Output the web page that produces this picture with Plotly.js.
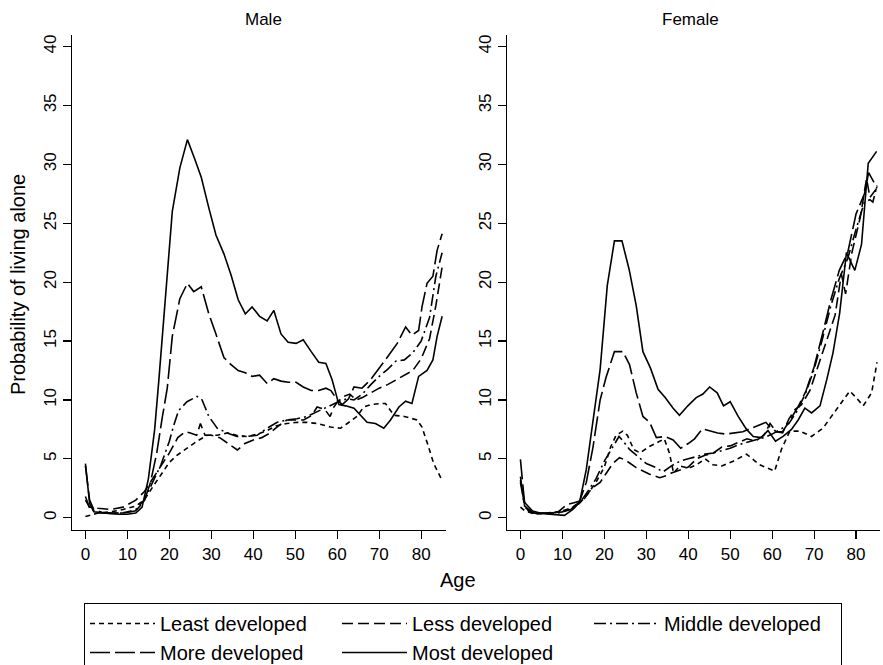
<!DOCTYPE html>
<html>
<head>
<meta charset="utf-8">
<script src="https://cdn.plot.ly/plotly-3.0.1.min.js"></script>
<style>html,body{margin:0;padding:0;background:#fff;}#chart{width:883px;height:665px;}</style>
</head>
<body>
<div id="chart"></div>
<script>
// ---------- data ----------
const seriesNames = ["Least developed", "Less developed", "Middle developed", "More developed", "Most developed"];
const panelTitles = ["Male", "Female"];
const yTickVals = [0, 5, 10, 15, 20, 25, 30, 35, 40];
const xTickVals = [0, 10, 20, 30, 40, 50, 60, 70, 80];

// Male
const maleLeastAge = [0,1,3,6,9,12,14,16,18.7,20,21.8,24.2,26.6,29,31.4,33.8,36,38.5,41,43.3,45.5,48,50.5,52.8,55.2,58.4,60.8,62.4,64.7,66.3,68,70.3,71.5,73.5,76,79,80.2,81.5,83,84.8];
const maleLeastVal = [0.1,0.2,0.4,0.5,0.7,1.0,1.5,2.6,4.05,4.7,5.3,5.9,6.5,7.0,7.0,7.2,7.0,6.9,7.1,7.4,7.8,8.0,8.1,8.1,8.0,7.7,7.6,8.0,8.6,9.4,9.6,9.7,9.7,8.7,8.6,8.3,7.7,6.3,4.6,3.3];

const maleLessAge = [0,1,3,6,9,12,14,16,18,20,22,23.8,25,26.5,27.4,28.5,30,32,34,36.2,38,40,42,44,46,48,50,52,54,55.2,57,58.3,59.2,60,61.5,63,64.5,66,68,70,72,74,76,78,80,82,83.5,85];
const maleLessVal = [1.5,0.9,0.8,0.7,0.9,1.5,2.2,3.3,4.3,5.5,6.8,7.3,7.2,7.0,8.0,7.0,7.0,6.8,6.3,5.75,6.3,6.6,6.8,7.2,7.8,8.3,8.3,8.3,8.7,9.4,9.2,8.6,9.4,9.8,10.3,10.5,10.0,10.2,10.6,11.0,11.3,11.7,12.1,12.5,13.5,15.2,18.0,21.3];

const maleMiddleAge = [0,1,3,6,9,12,14,16,18,20,21,22.2,24.2,26.6,27.8,29.4,31.4,33.8,36.1,38.5,40.9,43.3,45.7,48,50.4,52.8,55.2,57.6,60,62.3,64,66,68,70,72,74,76,78,80,82,83.5,85];
const maleMiddleVal = [1.8,0.8,0.4,0.4,0.4,0.7,1.5,3.0,4.5,6.5,7.8,9.1,9.85,10.3,10.0,8.6,7.6,7.2,6.9,6.9,7.0,7.6,8.1,8.3,8.4,8.6,9.0,9.4,9.8,10.1,10.0,10.5,11.3,12.0,12.6,13.3,13.4,14.0,15.0,17.0,20.5,22.5];

const maleMoreAge = [0,1,2,4,7,10,12,14,15.5,17,18.3,19.5,20.7,22.5,24.3,25.8,27.6,29.4,31.1,33,34.7,36.4,38.1,39.7,41.5,43.3,44.9,46.6,48.3,50.2,51.9,53.8,55.6,57.3,58.5,60,61.2,62.7,64,65.9,67.9,70.3,72.7,74.3,76.3,77.8,79.4,80.2,81.4,82.8,83.8,85];
const maleMoreVal = [4.4,1.5,0.7,0.45,0.4,0.45,0.6,1.4,3.0,5.5,8.5,11.0,15.4,18.6,19.9,19.2,19.6,17.3,15.6,13.6,13.0,12.5,12.3,12.0,12.1,11.4,11.8,11.6,11.5,11.5,11.1,10.8,10.8,11.0,10.8,10.0,9.6,10.1,11.1,11.0,11.7,12.8,14.0,14.8,16.2,15.5,15.9,17.9,19.9,20.5,22.7,24.1];

const maleMostAge = [0,1,2,4,6,8,10,12,13.5,15,16.5,17.5,19.5,20.7,22.5,24.3,26,27.6,29.4,31.1,33,34.7,36.4,38.1,39.7,41.5,43.3,44.9,46.6,48.3,50.2,51.9,53.8,55.6,57.3,58.8,60.4,62,64,65.5,67.1,69.1,71.1,72.7,74.7,76.3,77.8,79.4,81.4,82.8,83.8,85];
const maleMostVal = [4.6,1.2,0.5,0.4,0.35,0.3,0.3,0.4,0.9,3.3,7.5,11.7,20.6,26.0,29.7,32.1,30.5,28.9,26.3,24.0,22.4,20.6,18.5,17.3,17.9,17.1,16.7,17.6,15.6,14.9,14.8,15.1,14.1,13.2,13.1,11.7,9.6,9.5,9.3,8.7,8.1,8.0,7.6,8.3,9.4,9.9,9.7,12.0,12.5,13.4,15.4,17.1];

// Female
const femLeastAge = [0,1,3,6,9,12,14,16,18,20,21.5,22.8,24.4,25.5,27,28.5,30.5,32.5,34.3,35.5,36.5,38,40,42,44,45.9,48,50.7,53.9,57,60.6,62.2,64.2,66.6,69.4,72.1,75.3,78.5,80,81.7,83.7,85];
const femLeastVal = [0.9,0.6,0.35,0.35,0.5,0.8,1.2,2.0,3.0,4.3,6.0,7.0,7.35,7.0,5.8,5.5,6.0,6.4,6.7,5.5,3.8,4.4,4.2,4.5,5.0,4.5,4.4,4.8,5.4,4.5,3.95,5.8,7.35,7.35,6.9,7.6,9.2,10.75,10.2,9.5,10.6,13.2];

const femLessAge = [0,1,3,6,9,11,13,15,17,19,20.5,22,23.6,25,27.6,29,30.8,33.2,35,36,38.4,40,42,44,46,48,50,52,54,56,58,59.5,61,62.5,64,65.5,67,69,71,73,75,76.5,77.5,79,81,82.5,83.3,85];
const femLessVal = [3.5,0.9,0.4,0.4,0.5,1.1,1.3,1.5,2.5,3.0,3.8,4.6,5.1,4.9,4.25,4.0,3.7,3.4,3.6,3.8,4.1,4.3,5.0,5.3,5.5,6.0,6.1,6.4,6.7,6.5,7.0,8.0,7.3,7.2,8.4,9.2,9.6,10.8,13.0,15.2,17.2,20.7,19.0,22.5,25.5,28.8,27.2,28.0];

const femMiddleAge = [0,1,3,6,9,12,14,16,18,20,22,23.5,24.5,26,28,30,32,34,36,38,40,42,44,46,48,50,52,54,56,58,60,62,64,66,68,70,72,74,76,78,80,82,83.3,84,85];
const femMiddleVal = [3.0,1.0,0.4,0.4,0.4,0.7,1.2,2.2,3.3,4.8,6.0,6.9,6.5,5.8,5.2,4.6,4.3,3.9,4.4,4.8,5.0,5.2,5.4,5.5,5.7,5.9,6.2,6.4,6.6,6.8,7.1,7.5,8.0,9.1,10.6,12.6,15.2,18.0,20.3,22.0,24.5,26.8,27.0,26.8,28.2];

const femMoreAge = [0,1,2,4,7,10,12,14,15.7,17.3,19,20.4,22.4,24.4,26,27.6,29.2,30.8,32.4,34.4,36.4,38.2,40,41.5,43.4,45.1,47,49,51,53,55,57,58.5,59.5,61,62.5,64,66,68,70,72,74,76,78,80,82,83,85];
const femMoreVal = [4.95,1.2,0.5,0.35,0.4,0.5,0.8,1.3,3.0,6.0,10.0,11.9,14.1,14.1,13.0,10.6,8.6,8.1,6.8,6.9,6.6,5.9,6.3,6.7,7.55,7.4,7.2,7.1,7.2,7.3,7.6,7.9,8.1,7.7,7.3,7.3,8.2,9.3,10.7,12.8,15.6,18.5,21.0,22.5,25.8,27.5,29.3,28.0];

const femMostAge = [0,1,2.9,4.9,7,10.5,12.5,14.1,15.7,17.3,19,20.7,22.4,24.2,25.9,27.6,29.2,31,32.8,34.5,36.4,37.9,39.9,41.9,43.5,45.1,46.9,48.4,50,51.9,53.9,55.5,57.4,59,60.8,62.6,64.6,66.2,67.8,69.4,71.4,73,74.5,76.1,77.7,79.7,81.3,82.9,84.9];
const femMostVal = [3.2,1.3,0.57,0.37,0.3,0.2,0.7,1.3,4.1,8.1,12.6,19.7,23.5,23.5,21.1,18.0,14.1,12.7,10.9,10.2,9.3,8.7,9.5,10.2,10.5,11.1,10.6,9.5,9.85,8.6,7.5,6.9,6.8,7.4,6.5,6.9,7.5,8.3,9.3,8.9,9.5,11.7,14.0,17.4,22.5,21.0,23.2,30.1,31.1];

// ---------- styling ----------
const dashes = ["5px,4px", "11px,5px", "12px,4px,2px,4px", "20px,5px", "solid"];
const FONT = "Liberation Sans, Arial, Helvetica, sans-serif";

const maleData = [[maleLeastAge, maleLeastVal], [maleLessAge, maleLessVal], [maleMiddleAge, maleMiddleVal], [maleMoreAge, maleMoreVal], [maleMostAge, maleMostVal]];
const femData = [[femLeastAge, femLeastVal], [femLessAge, femLessVal], [femMiddleAge, femMiddleVal], [femMoreAge, femMoreVal], [femMostAge, femMostVal]];

const traces = [];
maleData.forEach(function (d, i) {
  traces.push({x: d[0], y: d[1], type: "scatter", mode: "lines", name: seriesNames[i],
    legendgroup: seriesNames[i], showlegend: true, xaxis: "x", yaxis: "y",
    line: {color: "#000", width: 1.6, dash: dashes[i]}, hoverinfo: "skip"});
});
femData.forEach(function (d, i) {
  traces.push({x: d[0], y: d[1], type: "scatter", mode: "lines", name: seriesNames[i],
    legendgroup: seriesNames[i], showlegend: false, xaxis: "x2", yaxis: "y2",
    line: {color: "#000", width: 1.6, dash: dashes[i]}, hoverinfo: "skip"});
});

const W = 883, H = 665;
const px = v => v / W, py = v => (H - v) / H;

const xCommon = {range: [-3.2, 85.8], tickvals: xTickVals, ticks: "outside", ticklen: 8, tickwidth: 1.2,
  tickcolor: "#000", showline: true, linecolor: "#000", linewidth: 1.3, showgrid: false, zeroline: false,
  tickfont: {family: FONT, size: 17, color: "#000"}, automargin: false, fixedrange: true};
const yCommon = {range: [-1.04, 40.98], tickvals: yTickVals, ticks: "outside", ticklen: 8, tickwidth: 1.2,
  tickcolor: "#000", showline: true, linecolor: "#000", linewidth: 1.3, showgrid: false, zeroline: false,
  tickangle: -90, tickfont: {family: FONT, size: 17, color: "#000"}, automargin: false, fixedrange: true,
  domain: [py(530), py(35)]};

function note(text, x, y, size, angle) {
  return {text: text, x: px(x), y: py(y), xref: "paper", yref: "paper", xanchor: "center", yanchor: "middle",
    showarrow: false, textangle: angle || 0, font: {family: FONT, size: size, color: "#000"}};
}

const layout = {
  width: W, height: H,
  margin: {l: 0, r: 0, t: 0, b: 0, autoexpand: false},
  paper_bgcolor: "#fff", plot_bgcolor: "#fff",
  font: {family: FONT, color: "#000"},
  xaxis: Object.assign({}, xCommon, {domain: [px(72), px(445.5)], anchor: "y"}),
  yaxis: Object.assign({}, yCommon, {anchor: "x"}),
  xaxis2: Object.assign({}, xCommon, {domain: [px(507), px(880.4)], anchor: "y2"}),
  yaxis2: Object.assign({}, yCommon, {anchor: "x2"}),
  showlegend: true,
  legend: {orientation: "h", x: px(84), y: py(603), xanchor: "left", yanchor: "top",
    bordercolor: "#000", borderwidth: 1, bgcolor: "#fff",
    font: {family: FONT, size: 20, color: "#000"},
    itemwidth: 65, entrywidth: 172, entrywidthmode: "pixels", tracegroupgap: 0, traceorder: "normal"},
  annotations: [
    note(panelTitles[0], 263, 19, 17),
    note(panelTitles[1], 690, 19, 17),
    note("Age", 458, 580, 20),
    note("Probability of living alone", 18, 285, 20, -90)
  ]
};

Plotly.newPlot("chart", traces, layout, {displayModeBar: false, staticPlot: true});
</script>
</body>
</html>
